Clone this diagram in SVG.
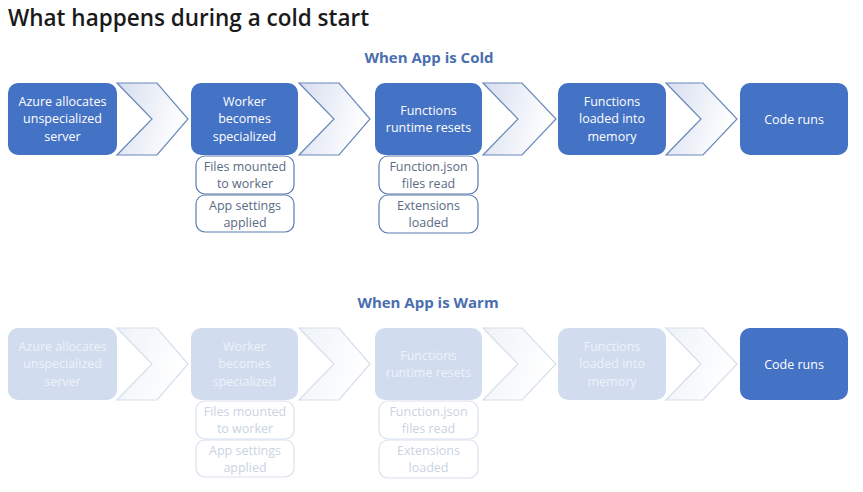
<svg xmlns="http://www.w3.org/2000/svg" width="863" height="492" viewBox="0 0 863 492">
<defs>
<linearGradient id="gc" x1="0" y1="0" x2="1" y2="0.3">
<stop offset="0" stop-color="#d6deef"/>
<stop offset="1" stop-color="#ffffff"/>
</linearGradient>
<linearGradient id="gw" x1="0" y1="0" x2="1" y2="0.3">
<stop offset="0" stop-color="#eef2f8"/>
<stop offset="1" stop-color="#ffffff"/>
</linearGradient>
<style>
.title{font-family:"Open Sans","Noto Sans",sans-serif;font-weight:600;font-size:22.5px;fill:#1a1a1a}
.head{font-family:"Open Sans","Noto Sans",sans-serif;font-weight:700;font-size:15px;fill:#4a6eb0;text-anchor:middle}
.box{fill:#4472c4}
.boxw{fill:#d1dcef}
.bt{font-family:"Open Sans","Noto Sans",sans-serif;font-size:12.5px;fill:#ffffff;text-anchor:middle}
.btw{font-family:"Open Sans","Noto Sans",sans-serif;font-size:12.5px;fill:#eef2f9;text-anchor:middle}
.sub{fill:#ffffff;stroke:#5a7dae;stroke-width:1.2}
.subw{fill:#ffffff;stroke:#d9e1ee;stroke-width:1.2}
.st{font-family:"Open Sans","Noto Sans",sans-serif;font-size:12.5px;fill:#5a6b84;text-anchor:middle}
.stw{font-family:"Open Sans","Noto Sans",sans-serif;font-size:12.5px;fill:#c9d3e2;text-anchor:middle}
.chev{fill:url(#gc);stroke:#6a88bb;stroke-width:1.2;stroke-linejoin:miter}
.chevw{fill:url(#gw);stroke:#d7dfec;stroke-width:1.2;stroke-linejoin:miter}
</style>
</defs>
<rect width="863" height="492" fill="#ffffff"/>
<text class="title" x="8" y="26">What happens during a cold start</text>
<text class="head" x="429" y="63">When App is Cold</text>
<text class="head" x="428" y="308">When App is Warm</text>

<g id="connectors">
<polygon class="chev" points="117,83 157,83 188,119 157,155 117,155 152,119"/>
<polygon class="chev" points="299,83 339,83 370,119 339,155 299,155 334,119"/>
<polygon class="chev" points="483,83 522,83 556,119 522,155 483,155 518,119"/>
<polygon class="chev" points="666,83 703,83 737,119 703,155 666,155 701,119"/>
<polygon class="chevw" points="117,328 157,328 188,364 157,400 117,400 152,364"/>
<polygon class="chevw" points="299,328 339,328 370,364 339,400 299,400 334,364"/>
<polygon class="chevw" points="483,328 522,328 556,364 522,400 483,400 518,364"/>
<polygon class="chevw" points="666,328 703,328 737,364 703,400 666,400 701,364"/>
</g>

<g id="cold-azure">
<rect class="box" x="8" y="83" width="109" height="72" rx="10"/>
<text class="bt" x="62.5" y="105.5">Azure allocates</text>
<text class="bt" x="62.5" y="123">unspecialized</text>
<text class="bt" x="62.5" y="140.5">server</text>
</g>
<g id="cold-worker">
<rect class="box" x="191" y="83" width="107" height="72" rx="10"/>
<text class="bt" x="244.5" y="105.5">Worker</text>
<text class="bt" x="244.5" y="123">becomes</text>
<text class="bt" x="244.5" y="140.5">specialized</text>
</g>
<g id="cold-files">
<rect class="sub" x="196" y="156" width="98" height="38" rx="9"/>
<text class="st" x="245" y="170.5">Files mounted</text>
<text class="st" x="245" y="188">to worker</text>
</g>
<g id="cold-appsettings">
<rect class="sub" x="196" y="195" width="98" height="37" rx="9"/>
<text class="st" x="245" y="209.5">App settings</text>
<text class="st" x="245" y="227">applied</text>
</g>
<g id="cold-runtime">
<rect class="box" x="375" y="83" width="107" height="72" rx="10"/>
<text class="bt" x="428.5" y="114.5">Functions</text>
<text class="bt" x="428.5" y="132">runtime resets</text>
</g>
<g id="cold-functionjson">
<rect class="sub" x="379" y="156" width="99" height="38" rx="9"/>
<text class="st" x="428.5" y="170.5">Function.json</text>
<text class="st" x="428.5" y="188">files read</text>
</g>
<g id="cold-extensions">
<rect class="sub" x="379" y="195" width="99" height="38" rx="9"/>
<text class="st" x="428.5" y="209.5">Extensions</text>
<text class="st" x="428.5" y="227">loaded</text>
</g>
<g id="cold-loaded">
<rect class="box" x="558" y="83" width="108" height="72" rx="10"/>
<text class="bt" x="612" y="105.5">Functions</text>
<text class="bt" x="612" y="123">loaded into</text>
<text class="bt" x="612" y="140.5">memory</text>
</g>
<g id="cold-code">
<rect class="box" x="740" y="83" width="108" height="72" rx="10"/>
<text class="bt" x="794" y="123.5">Code runs</text>
</g>

<g id="warm-azure">
<rect class="boxw" x="8" y="328" width="109" height="72" rx="10"/>
<text class="btw" x="62.5" y="350.5">Azure allocates</text>
<text class="btw" x="62.5" y="368">unspecialized</text>
<text class="btw" x="62.5" y="385.5">server</text>
</g>
<g id="warm-worker">
<rect class="boxw" x="191" y="328" width="107" height="72" rx="10"/>
<text class="btw" x="244.5" y="350.5">Worker</text>
<text class="btw" x="244.5" y="368">becomes</text>
<text class="btw" x="244.5" y="385.5">specialized</text>
</g>
<g id="warm-files">
<rect class="subw" x="196" y="401" width="98" height="38" rx="9"/>
<text class="stw" x="245" y="415.5">Files mounted</text>
<text class="stw" x="245" y="433">to worker</text>
</g>
<g id="warm-appsettings">
<rect class="subw" x="196" y="440" width="98" height="37" rx="9"/>
<text class="stw" x="245" y="454.5">App settings</text>
<text class="stw" x="245" y="472">applied</text>
</g>
<g id="warm-runtime">
<rect class="boxw" x="375" y="328" width="107" height="72" rx="10"/>
<text class="btw" x="428.5" y="359.5">Functions</text>
<text class="btw" x="428.5" y="377">runtime resets</text>
</g>
<g id="warm-functionjson">
<rect class="subw" x="379" y="401" width="99" height="38" rx="9"/>
<text class="stw" x="428.5" y="415.5">Function.json</text>
<text class="stw" x="428.5" y="433">files read</text>
</g>
<g id="warm-extensions">
<rect class="subw" x="379" y="440" width="99" height="38" rx="9"/>
<text class="stw" x="428.5" y="454.5">Extensions</text>
<text class="stw" x="428.5" y="472">loaded</text>
</g>
<g id="warm-loaded">
<rect class="boxw" x="558" y="328" width="108" height="72" rx="10"/>
<text class="btw" x="612" y="350.5">Functions</text>
<text class="btw" x="612" y="368">loaded into</text>
<text class="btw" x="612" y="385.5">memory</text>
</g>
<g id="warm-code">
<rect class="box" x="740" y="328" width="108" height="72" rx="10"/>
<text class="bt" x="794" y="368.5">Code runs</text>
</g>
</svg>
